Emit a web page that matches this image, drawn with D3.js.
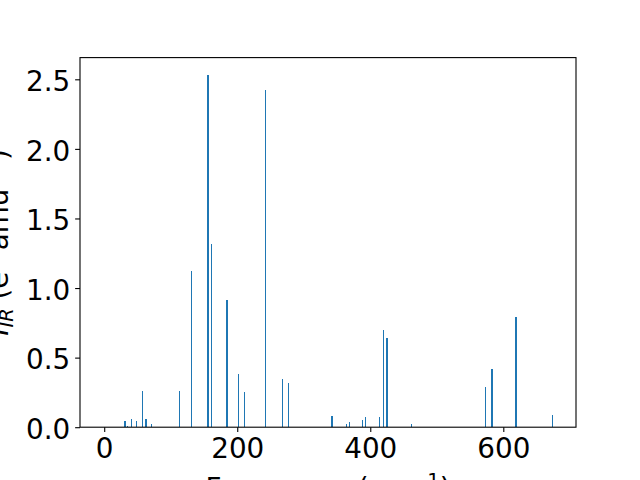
<!DOCTYPE html>
<html>
<head>
<meta charset="utf-8">
<script src="https://cdn.jsdelivr.net/npm/d3@7"></script>
<style>
  html, body { margin: 0; padding: 0; background: #fff; }
  svg { display: block; font-family: "DejaVu Sans", sans-serif; }
</style>
</head>
<body>
<svg id="chart" width="640" height="480"></svg>
<script>
// Data
const frequencies = [31.3, 35.0, 41.0, 48.5, 57.6, 62.8, 71.1, 113.2, 131.2, 156.0,
                     161.3, 184.6, 201.9, 210.9, 242.9, 267.6, 276.6, 342.5, 364.2, 368.8,
                     388.3, 392.8, 413.8, 419.9, 425.1, 461.9, 573.3, 582.9, 618.9, 673.9];
const intensities = [0.045, 0.009, 0.060, 0.045, 0.261, 0.060, 0.024, 0.261, 1.123, 2.531,
                     1.317, 0.915, 0.383, 0.254, 2.423, 0.347, 0.318, 0.080, 0.024, 0.038,
                     0.052, 0.074, 0.074, 0.699, 0.642, 0.024, 0.290, 0.419, 0.792, 0.088];
const xTicks = [0, 200, 400, 600];
const yTicks = [0.0, 0.5, 1.0, 1.5, 2.0, 2.5];
const xDomain = [-36.4, 709.3];
const yDomain = [0, 2.656];
const barWidth = 2; // in cm^-1

const mLeft = 80, mRight = 576, mTop = 57.6, mBottom = 427.2;
const FS = 27.8;
const color = "#1f77b4";

const svg = d3.select("#chart");
const x = d3.scaleLinear().domain(xDomain).range([mLeft, mRight]);
const y = d3.scaleLinear().domain(yDomain).range([mBottom, mTop]);

// Bars (pixel-snapped like matplotlib)
svg.append("g").attr("shape-rendering", "crispEdges")
  .selectAll("rect").data(frequencies.map((f, i) => ({f, v: intensities[i]})))
  .join("rect")
  .attr("x", d => Math.round(x(d.f - barWidth / 2)))
  .attr("width", d => Math.max(1, Math.round(x(d.f + barWidth / 2)) - Math.round(x(d.f - barWidth / 2))))
  .attr("y", d => Math.round(y(d.v)))
  .attr("height", d => Math.max(0, y(0) - Math.round(y(d.v))))
  .attr("fill", color);

// Axes
const tickLen = 4.86, pad = 4.86;
const xAxis = d3.axisBottom(x).tickValues(xTicks).tickFormat(d3.format("d"))
  .tickSize(tickLen).tickPadding(pad);
const yAxis = d3.axisLeft(y).tickValues(yTicks).tickFormat(d3.format(".1f"))
  .tickSize(tickLen).tickPadding(pad);

const gx = svg.append("g").attr("transform", `translate(0,${mBottom})`).call(xAxis);
const gy = svg.append("g").attr("transform", `translate(${mLeft},0)`).call(yAxis);
[gx, gy].forEach(g => {
  g.select(".domain").remove();
  g.selectAll(".tick line").attr("stroke", "#000").attr("stroke-width", 1.1);
  g.selectAll(".tick text").attr("fill", "#000").attr("font-size", FS)
    .attr("font-family", "DejaVu Sans");
});
gx.selectAll(".tick text").attr("dy", null).attr("y", tickLen + pad + 21.4);
gy.selectAll(".tick text").attr("dy", null).attr("y", 11.3);

// Frame
svg.append("rect").attr("x", mLeft).attr("y", mTop)
  .attr("width", mRight - mLeft).attr("height", mBottom - mTop)
  .attr("fill", "none").attr("stroke", "#000").attr("stroke-width", 1.1);

// X label
const xl = svg.append("text").attr("x", (mLeft + mRight) / 2).attr("y", 498)
  .attr("text-anchor", "middle").attr("font-size", FS).attr("fill", "#000");
xl.append("tspan").text("Frequency (cm");
xl.append("tspan").attr("font-size", FS * 0.7).attr("dy", -11).text("\u22121");
xl.append("tspan").attr("dy", 11).text(")");

// Y label
const yl = svg.append("text")
  .attr("transform", `translate(8,${(mTop + mBottom) / 2}) rotate(-90)`)
  .attr("text-anchor", "middle").attr("font-size", FS).attr("fill", "#000");
yl.append("tspan").attr("font-style", "italic").text("I");
yl.append("tspan").attr("font-style", "italic").attr("font-size", FS * 0.7).attr("dy", 5).text("IR");
yl.append("tspan").attr("dy", -5).text(" (e");
yl.append("tspan").attr("font-size", FS * 0.7).attr("dy", -11).text("2");
yl.append("tspan").attr("dy", 11).text(" amu");
yl.append("tspan").attr("font-size", FS * 0.7).attr("dy", -11).text("\u22121");
yl.append("tspan").attr("dy", 11).text(")");
</script>
</body>
</html>
